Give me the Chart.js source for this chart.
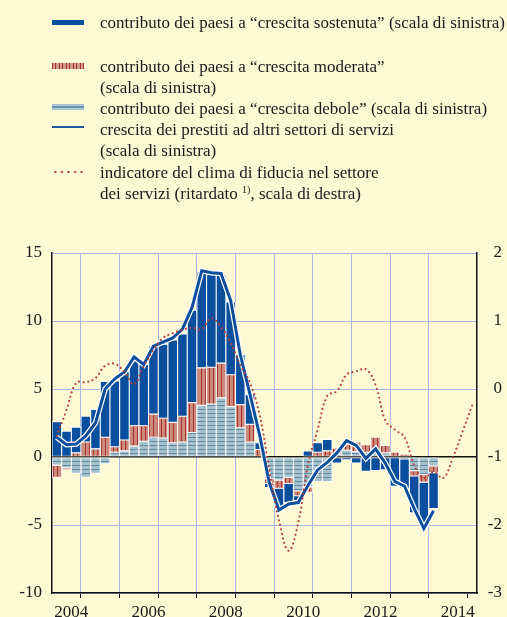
<!DOCTYPE html>
<html>
<head>
<meta charset="utf-8">
<script src="https://cdn.jsdelivr.net/npm/chart.js@4.4.0/dist/chart.umd.min.js"></script>
<style>
html, body { margin: 0; padding: 0; background: #fdf9d4; }
#wrap { position: relative; width: 507px; height: 617px; overflow: hidden; background: #fdf9d4;
        font-family: "Liberation Serif", "Times New Roman", serif; color: #1a1a1a; }
#chart { position: absolute; left: 0; top: 0; }
.row { position: absolute; left: 100px; font-size: 17px; line-height: 21px; white-space: nowrap; }
.row sup { font-size: 10px; vertical-align: 6px; line-height: 0; }
.key { position: absolute; left: 52px; width: 32px; }
</style>
</head>
<body>
<div id="wrap">
  <canvas id="chart" width="507" height="617"></canvas>
  <div id="legend">
    <div class="key" style="top:20px;height:5px;background:#0a4f9e"></div>
    <div class="row" style="top:12px">contributo dei paesi a “crescita sostenuta” (scala di sinistra)</div>

    <div class="key" style="top:63px;height:6px;background:repeating-linear-gradient(90deg,#a8322c 0 1px,#d39a8c 1px 3.5px)"></div>
    <div class="row" style="top:56px">contributo dei paesi a “crescita moderata”</div>
    <div class="row" style="top:77px">(scala di sinistra)</div>

    <div class="key" style="top:104px;height:6px;background:linear-gradient(#a9c4d2 0 2px,#6f94aa 2px 4px,#a9c4d2 4px 6px)"></div>
    <div class="row" style="top:98px">contributo dei paesi a “crescita debole” (scala di sinistra)</div>

    <div class="key" style="top:126px;height:2px;background:#1d5aa2"></div>
    <div class="row" style="top:119px">crescita dei prestiti ad altri settori di servizi</div>
    <div class="row" style="top:140px">(scala di sinistra)</div>

    <div class="key" style="top:170px;height:4px;background:radial-gradient(circle,#b8403a 0.9px,transparent 1.3px);background-size:6.6px 4px"></div>
    <div class="row" style="top:162px">indicatore del clima di fiducia nel settore</div>
    <div class="row" style="top:183px">dei servizi (ritardato <sup>1)</sup>, scala di destra)</div>
  </div>
</div>
<script>
// quarters 2004-2013 for the bars and the loans line, up to 2014 for the lagged indicator
var years = [2004, 2005, 2006, 2007, 2008, 2009, 2010, 2011, 2012, 2013];
var climaYears = [2004, 2005, 2006, 2007, 2008, 2009, 2010, 2011, 2012, 2013, 2014];

// contributions (left scale)
var debole = [-0.6, -0.8, -1.2, -1.5, -1.2, -0.5, 0.35, 0.45, 0.8, 1.15,
              1.45, 1.4, 1.05, 1.1, 1.8, 3.8, 3.9, 4.35, 3.7, 2.15,
              1.1, 0, -1.6, -1.7, -1.5, -2.5, -2.2, -1.8, -1.8, 0.2,
              0.5, 0.4, 0.35, 0.5, 0.3, 0, -0.15, -1.0, -1.3, -0.65];
var moderata = [-0.9, -0.15, 0.3, 1.1, 0.6, 1.45, 0.4, 0.8, 1.5, 1.15,
                1.7, 1.45, 1.5, 1.9, 2.2, 2.75, 2.7, 2.55, 2.35, 1.7,
                1.3, 0.55, -0.35, -0.6, -0.45, -0.35, -0.4, 0.35, 0.45, 0.45,
                0.75, 0.7, 0.55, 0.95, 0.55, 0.35, 0.2, -0.4, -0.55, -0.5];
var sostenuta = [2.6, 1.9, 1.9, 1.9, 2.9, 4.1, 4.85, 5.05, 5.0, 4.5,
                 5.0, 5.45, 6.05, 6.05, 6.8, 7.05, 6.85, 6.5, 5.35, 3.7,
                 2.2, 0.5, -0.3, -1.4, -1.4, -0.35, 0.45, 0.7, 0.85, -0.45,
                 -0.2, -0.45, -1.05, -1.0, -0.95, -2.15, -2.15, -2.7, -3.25, -2.65];
// loans growth (left scale)
var prestiti = [1.45, 0.9, 0.95, 1.55, 2.5, 5.0, 5.75, 6.25, 7.35, 6.8,
                8.15, 8.45, 8.75, 9.4, 11.0, 13.7, 13.55, 13.5, 11.5, 7.5,
                4.6, 1.6, -1.9, -3.9, -3.45, -3.35, -2.1, -0.95, -0.4, 0.3,
                1.2, 0.85, -0.1, 0.6, -0.45, -1.8, -2.15, -3.8, -5.25, -3.95];
// confidence indicator, lagged (right scale)
var clima = [-0.69, -0.31, 0.09, 0.1, 0.16, 0.34, 0.37, 0.25, 0.07, 0.34,
             0.57, 0.75, 0.82, 0.87, 0.9, 0.88, 1.04, 0.91, 0.68, 0.35,
             0.09, -0.38, -1.19, -1.93, -2.38, -1.96, -1.12, -0.6, -0.1, -0.03,
             0.21, 0.26, 0.29, 0.06, -0.46, -0.6, -0.71, -1.12, -1.31, -1.22,
             -1.31, -1.01, -0.63, -0.24];
var yearLabels = ["2004", "2006", "2008", "2010", "2012", "2014"];

var quarterPos = [];
years.forEach(function (y) { [1, 2, 3, 4].forEach(function (q) { quarterPos.push(y + (q - 0.5) / 4); }); });
var climaPos = [];
climaYears.forEach(function (y) { [1, 2, 3, 4].forEach(function (q) { climaPos.push(y + (q - 0.5) / 4); }); });

function pts(pos, vals) { return vals.map(function (v, i) { return {x: pos[i], y: v}; }); }

function stripes(base, line, vertical) {
    var c = document.createElement("canvas");
    c.width = 4; c.height = 4;
    var g = c.getContext("2d");
    g.fillStyle = base; g.fillRect(0, 0, 4, 4);
    g.fillStyle = line;
    if (vertical) g.fillRect(1, 0, 1, 4); else g.fillRect(0, 1, 4, 1);
    return g.createPattern(c, "repeat");
}

var ctx = document.getElementById("chart").getContext("2d");
var patModerata = stripes("#cc8a7c", "#a8322c", true);
var patDebole = stripes("#a6c0cc", "#5d8ca2", false);
var gridBlue = "#a9b5e2";
var font = {family: "'Liberation Serif', 'Times New Roman', serif", size: 17};
var ink = "#1a1a1a";

function bars(label, vals, bg) {
    return {type: "bar", label: label, data: pts(quarterPos, vals), backgroundColor: bg,
            borderColor: "#ffffff", borderWidth: 0.9, borderSkipped: false,
            barPercentage: 1, categoryPercentage: 1, order: 1, yAxisID: "y"};
}

new Chart(ctx, {
    data: {
        datasets: [
            {type: "line", label: "clima", data: pts(climaPos, clima), yAxisID: "y2",
             borderColor: "#b8403a", borderWidth: 2.2, borderDash: [0, 4.6], borderCapStyle: "round",
             pointRadius: 0, tension: 0.4, fill: false, order: -2},
            {type: "line", label: "prestiti", data: pts(quarterPos, prestiti), yAxisID: "y", stack: "p1",
             borderColor: "#0b4f9c", borderWidth: 3, pointRadius: 0, tension: 0, fill: false, order: -1},
            {type: "line", label: "prestiti_bordo", data: pts(quarterPos, prestiti), yAxisID: "y", stack: "p2",
             borderColor: "#ffffff", borderWidth: 5.5, pointRadius: 0, tension: 0, fill: false, order: 0},
            bars("debole", debole, patDebole),
            bars("moderata", moderata, patModerata),
            bars("sostenuta", sostenuta, "#0a4f9e")
        ]
    },
    options: {
        responsive: false,
        animation: false,
        devicePixelRatio: 1,
        layout: {padding: {top: 253, left: 0, right: 5, bottom: 0}},
        plugins: {legend: {display: false}, tooltip: {enabled: false}},
        scales: {
            x: {
                type: "linear", min: 2004, max: 2015, stacked: true, offset: false,
                afterBuildTicks: function (s) {
                    var t = [];
                    for (var v = 2004; v <= 2015; v += 0.5) t.push({value: v});
                    s.ticks = t;
                },
                afterFit: function (s) { s.height = 24; },
                ticks: {
                    autoSkip: false, maxRotation: 0, padding: 4, font: font, color: ink,
                    callback: function (v) {
                        var lab = String(Math.floor(v));
                        return (v % 1 === 0.5 && yearLabels.indexOf(lab) >= 0) ? lab : "";
                    }
                },
                grid: {
                    color: function (c) {
                        var v = c.tick && c.tick.value;
                        return (v % 1 === 0 && v > 2004 && v < 2015) ? gridBlue : "rgba(0,0,0,0)";
                    },
                    tickColor: function (c) {
                        return (c.tick && c.tick.value % 1 === 0) ? "#111111" : "rgba(0,0,0,0)";
                    },
                    tickLength: 5, lineWidth: 1
                },
                border: {display: true, color: "#111111", width: 1.5}
            },
            y: {
                position: "left", min: -10, max: 15, stacked: true,
                afterFit: function (s) { s.width = 52; },
                ticks: {stepSize: 5, padding: 10, font: font, color: ink},
                grid: {
                    drawTicks: false,
                    color: function (c) { return c.tick && c.tick.value === 0 ? "#111111" : gridBlue; },
                    lineWidth: function (c) { return c.tick && c.tick.value === 0 ? 1.5 : 1; }
                },
                border: {display: true, color: "#111111", width: 1.5}
            },
            y2: {
                position: "right", min: -3, max: 2,
                afterFit: function (s) { s.width = 25; },
                ticks: {stepSize: 1, padding: 6, crossAlign: "far", font: font, color: ink},
                grid: {display: false, drawTicks: false},
                border: {display: true, color: "#111111", width: 1.5}
            }
        }
    }
});
</script>
</body>
</html>
